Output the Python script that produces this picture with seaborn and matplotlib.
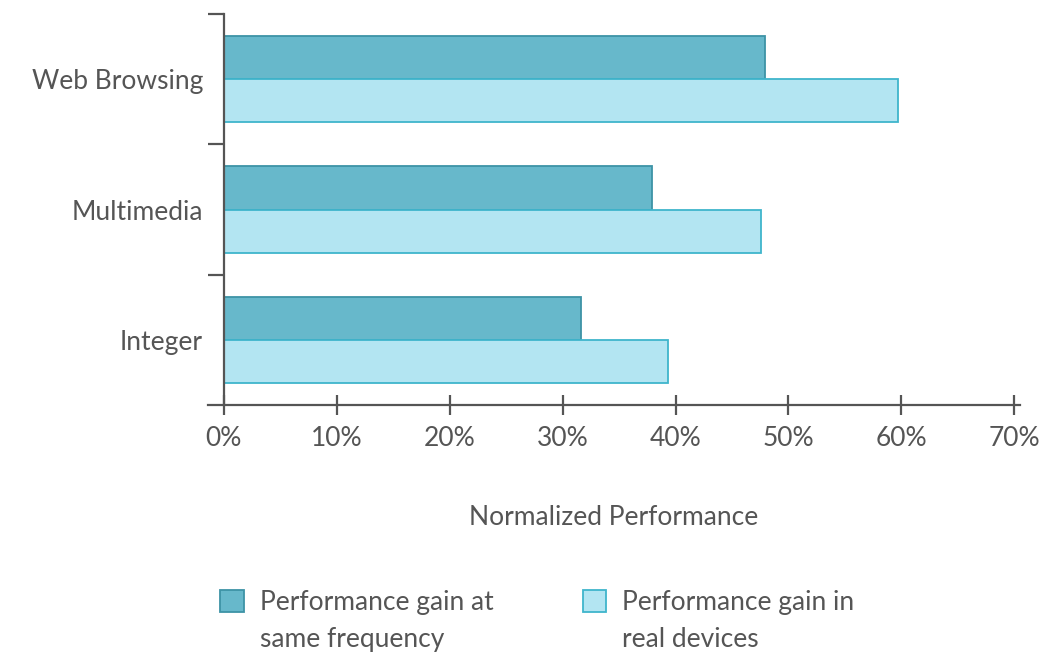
import pandas as pd
import numpy as np
import seaborn as sns
import matplotlib.pyplot as plt
from matplotlib.ticker import FuncFormatter

# data
categories = ["Web Browsing", "Multimedia", "Integer"]
series_names = ["Performance gain at same frequency", "Performance gain in real devices"]
legend_lines = [["Performance gain at", "same frequency"], ["Performance gain in", "real devices"]]
same_freq = [47.9, 37.9, 31.6]
real_devices = [59.7, 47.6, 39.3]
x_ticks = [0, 10, 20, 30, 40, 50, 60, 70]

df = pd.DataFrame({
    "category": categories * 2,
    "series": [series_names[0]] * 3 + [series_names[1]] * 3,
    "value": same_freq + real_devices,
})

fills = ["#67b8cb", "#b3e5f2"]
edges = ["#3d93a6", "#3fb5cc"]
grey = "#555555"
fs = 19

sns.set_style("white")
plt.rcParams["font.family"] = ["Lato", "DejaVu Sans"]

fig = plt.figure(figsize=(10.47, 6.54), dpi=100)
ax = fig.add_axes([0.1987, 0.3807, 0.7755, 0.5979])

sns.barplot(data=df, y="category", x="value", hue="series", orient="h",
            order=categories, hue_order=series_names, palette=fills,
            width=0.66, saturation=1, ax=ax, legend=True)

for cont, ec in zip(ax.containers, edges):
    for bar in cont:
        bar.set_edgecolor(ec)
        bar.set_linewidth(1.3)

ax.set_xlim(-1.4, 70.5)
ax.set_ylim(2.5, -0.5)

for s in ["top", "right"]:
    ax.spines[s].set_visible(False)
ax.spines["left"].set_position(("data", 0))
for s in ["left", "bottom"]:
    ax.spines[s].set_color(grey)
    ax.spines[s].set_linewidth(1.6)

ax.set_xticks(x_ticks)
ax.xaxis.set_major_formatter(FuncFormatter(lambda v, p: f"{v:.0f}%"))
ax.tick_params(axis="x", bottom=True, direction="inout", length=14, width=1.6, color=grey,
               labelsize=fs, labelcolor=grey, pad=8)
ax.set_yticks(range(len(categories)), categories)
ax.tick_params(axis="y", left=True, length=0, labelsize=fs, labelcolor=grey, pad=15)
ax.set_yticks([-0.5, 0.5, 1.5], minor=True)
ax.tick_params(axis="y", which="minor", left=True, direction="out", length=11.5, width=1.6, color=grey)

ax.set_ylabel("")
ax.set_xlabel("Normalized Performance", fontsize=fs, color=grey, labelpad=39)

handles, labels = ax.get_legend_handles_labels()
ax.get_legend().remove()

# one legend per entry so each sits where the reference has it
leg_x = [0.2105, 0.5565]
legs = []
for h, lines, lx in zip(handles, legend_lines, leg_x):
    leg = fig.legend([h], [lines[0]], loc="upper left", bbox_to_anchor=(lx, 0.098),
                     frameon=False, fontsize=fs, handlelength=0.9, handleheight=0.9,
                     handletextpad=0.6, borderpad=0, borderaxespad=0)
    leg.legend_handles[0].set_linewidth(1.3)
    leg.get_texts()[0].set_color(grey)
    legs.append(leg)

for cont, leg in zip(ax.containers, legs):
    leg.legend_handles[0].set_edgecolor(cont[0].get_edgecolor())

fig.canvas.draw()
r = fig.canvas.get_renderer()
for leg, lines in zip(legs, legend_lines):
    bb = leg.get_texts()[0].get_window_extent(r).transformed(fig.transFigure.inverted())
    fig.text(bb.x0, bb.y0 - 0.057, lines[1], fontsize=fs, color=grey, ha="left", va="bottom")

fig.savefig("out.png", dpi=100)
